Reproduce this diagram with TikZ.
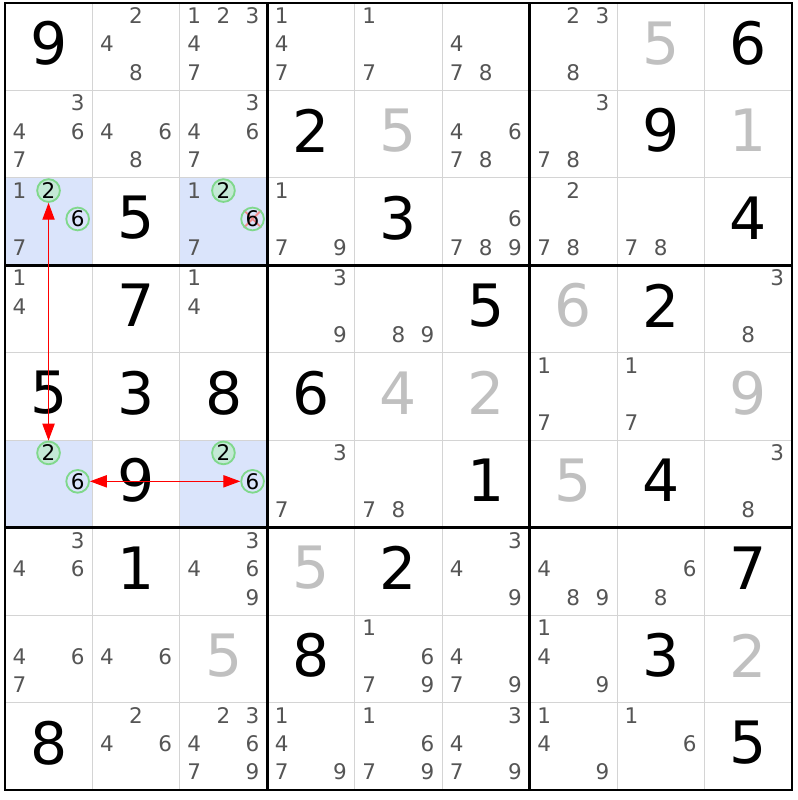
\documentclass[tikz,border=0pt]{standalone}
\usepackage{fontspec}
\setmainfont{DejaVu Sans}
\usetikzlibrary{arrows.meta, positioning}
\pgfdeclarelayer{back}
\pgfdeclarelayer{mid}
\pgfsetlayers{back,mid,main}

\definecolor{candgray}{HTML}{555555}
\definecolor{solvedgray}{HTML}{C0C0C0}
\definecolor{gridgray}{HTML}{D4D4D4}
\definecolor{cellblue}{HTML}{DAE4FB}
\definecolor{ringgreen}{HTML}{80D88C}
\definecolor{ringtint}{HTML}{C4E9D6}
\definecolor{crossred}{HTML}{F08C8C}

% big digit: row, column, digit
\newcommand{\bigclue}[3]{\node[clue] (n#1#2) at (#2-0.5,#1-0.54) {#3};}
\newcommand{\bigfill}[3]{\node[filled] (n#1#2) at (#2-0.5,#1-0.54) {#3};}
% pencil marks: [style] row, column, digits
\newcommand{\cands}[4][]{%
  \foreach \dig in {#4} {%
    \pgfmathtruncatemacro{\candcol}{mod(\dig-1,3)}%
    \pgfmathtruncatemacro{\candrow}{div(\dig-1,3)}%
    \node[cand,#1] (c#2#3-\dig) at ({#3-1+0.165+0.333*\candcol},{#2-1+0.145+0.325*\candrow}) {\dig};%
  }%
}

\begin{document}
\begin{tikzpicture}[x=1cm, y=-1cm,
  >={Triangle[length=5.5pt,width=4pt]},
  clue/.style={font=\fontsize{19}{19}\selectfont, text=black, inner sep=0pt},
  filled/.style={clue, text=solvedgray},
  cand/.style={circle, inner sep=0pt, minimum size=0.26cm,
    font=\fontsize{7}{7}\selectfont, text=candgray},
  ring/.style={draw=ringgreen, line width=0.6pt, text=black},
  ringon/.style={ring, fill=ringtint},
  thinline/.style={gridgray, line width=0.35pt},
  boxline/.style={black, line width=0.85pt, line cap=rect},
  linkarrow/.style={red, line width=0.35pt},
  strike/.style={crossred, line width=0.6pt}]

\useasboundingbox (-0.057,-0.034) rectangle (9.057,9.114);

\begin{pgfonlayer}{back}
\fill[cellblue] (0,2) rectangle (1,3);
\fill[cellblue] (2,2) rectangle (3,3);
\fill[cellblue] (0,5) rectangle (1,6);
\fill[cellblue] (2,5) rectangle (3,6);
\end{pgfonlayer}

\foreach \i in {1,2,4,5,7,8} {
  \draw[thinline] (\i,0) -- (\i,9);
  \draw[thinline] (0,\i) -- (9,\i);
}
\foreach \i in {0,3,6,9} {
  \draw[boxline] (\i,0) -- (\i,9);
  \draw[boxline] (0,\i) -- (9,\i);
}

% row 1
\bigclue{1}{1}{9}
\cands{1}{2}{2,4,8}
\cands{1}{3}{1,2,3,4,7}
\cands{1}{4}{1,4,7}
\cands{1}{5}{1,7}
\cands{1}{6}{4,7,8}
\cands{1}{7}{2,3,8}
\bigfill{1}{8}{5}
\bigclue{1}{9}{6}

% row 2
\cands{2}{1}{3,4,6,7}
\cands{2}{2}{4,6,8}
\cands{2}{3}{3,4,6,7}
\bigclue{2}{4}{2}
\bigfill{2}{5}{5}
\cands{2}{6}{4,6,7,8}
\cands{2}{7}{3,7,8}
\bigclue{2}{8}{9}
\bigfill{2}{9}{1}

% row 3
\cands{3}{1}{1,7}
\cands[ringon]{3}{1}{2}
\cands[ring]{3}{1}{6}
\bigclue{3}{2}{5}
\cands{3}{3}{1,7}
\cands[ringon]{3}{3}{2}
\cands[ring]{3}{3}{6}
\cands{3}{4}{1,7,9}
\bigclue{3}{5}{3}
\cands{3}{6}{6,7,8,9}
\cands{3}{7}{2,7,8}
\cands{3}{8}{7,8}
\bigclue{3}{9}{4}

% row 4
\cands{4}{1}{1,4}
\bigclue{4}{2}{7}
\cands{4}{3}{1,4}
\cands{4}{4}{3,9}
\cands{4}{5}{8,9}
\bigclue{4}{6}{5}
\bigfill{4}{7}{6}
\bigclue{4}{8}{2}
\cands{4}{9}{3,8}

% row 5
\bigclue{5}{1}{5}
\bigclue{5}{2}{3}
\bigclue{5}{3}{8}
\bigclue{5}{4}{6}
\bigfill{5}{5}{4}
\bigfill{5}{6}{2}
\cands{5}{7}{1,7}
\cands{5}{8}{1,7}
\bigfill{5}{9}{9}

% row 6
\cands[ringon]{6}{1}{2}
\cands[ring]{6}{1}{6}
\bigclue{6}{2}{9}
\cands[ringon]{6}{3}{2}
\cands[ring]{6}{3}{6}
\cands{6}{4}{3,7}
\cands{6}{5}{7,8}
\bigclue{6}{6}{1}
\bigfill{6}{7}{5}
\bigclue{6}{8}{4}
\cands{6}{9}{3,8}

% row 7
\cands{7}{1}{3,4,6}
\bigclue{7}{2}{1}
\cands{7}{3}{3,4,6,9}
\bigfill{7}{4}{5}
\bigclue{7}{5}{2}
\cands{7}{6}{3,4,9}
\cands{7}{7}{4,8,9}
\cands{7}{8}{6,8}
\bigclue{7}{9}{7}

% row 8
\cands{8}{1}{4,6,7}
\cands{8}{2}{4,6}
\bigfill{8}{3}{5}
\bigclue{8}{4}{8}
\cands{8}{5}{1,6,7,9}
\cands{8}{6}{4,7,9}
\cands{8}{7}{1,4,9}
\bigclue{8}{8}{3}
\bigfill{8}{9}{2}

% row 9
\bigclue{9}{1}{8}
\cands{9}{2}{2,4,6}
\cands{9}{3}{2,3,4,6,7,9}
\cands{9}{4}{1,4,7,9}
\cands{9}{5}{1,6,7,9}
\cands{9}{6}{3,4,7,9}
\cands{9}{7}{1,4,9}
\cands{9}{8}{1,6}
\bigclue{9}{9}{5}

% eliminated candidate
\begin{pgfonlayer}{mid}
\draw[strike] (c33-6.north west) -- (c33-6.south east);
\draw[strike] (c33-6.north east) -- (c33-6.south west);
\end{pgfonlayer}

\draw[linkarrow, <->] (c31-2) -- (c61-2);
\draw[linkarrow, <->] (c61-6) -- (c63-6);

\end{tikzpicture}
\end{document}
